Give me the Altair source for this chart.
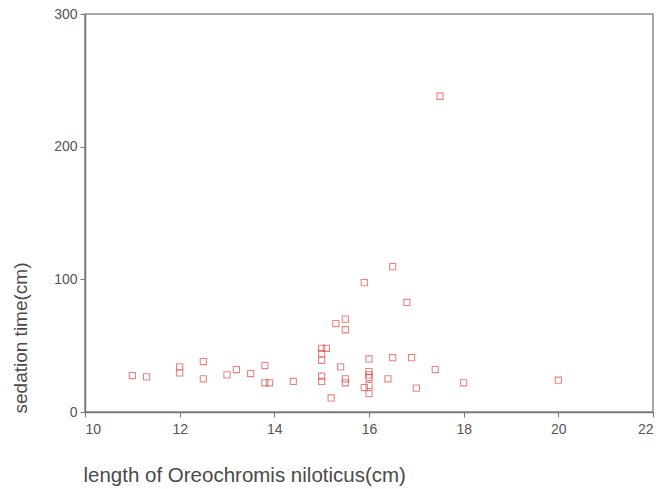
import altair as alt
import pandas as pd

length_cm = [11.0, 11.3, 12.0, 12.0, 12.5, 12.5, 13.0, 13.2, 13.5, 13.8, 13.8, 13.9, 14.4,
             15.0, 15.1, 15.0, 15.0, 15.0, 15.0, 15.2, 15.3, 15.5, 15.5, 15.4, 15.5, 15.5,
             15.9, 15.9, 16.0, 16.0, 16.0, 16.0, 16.0, 16.0, 16.4, 16.5, 16.5,
             16.8, 16.9, 17.0, 17.4, 17.5, 18.0, 20.0]
sedation = [27.5, 26.5, 34, 29.5, 38, 25, 28, 32, 29, 35, 22, 22, 23,
            48, 48, 44, 39, 27, 23, 10.6, 66.7, 70, 62, 34, 25, 22,
            97.5, 18.4, 40, 30.5, 28, 26, 20, 14, 25, 109.6, 41,
            82.6, 41, 18, 32, 238, 22, 24]

df = pd.DataFrame({"length": length_cm, "time": sedation})

chart = alt.Chart(df).mark_point(
    shape="square", filled=False, color="#e4524a", size=38, strokeWidth=1.1
).encode(
    x=alt.X("length:Q", scale=alt.Scale(domain=[10, 22], nice=False, zero=False),
            axis=alt.Axis(values=[10, 12, 14, 16, 18, 20, 22], grid=False,
                          title="length of Oreochromis niloticus(cm)",
                          titleX=-2, titleY=63, titleAlign="left", titleBaseline="middle",
                          titleAnchor="start", titleFontSize=20.5, labelPadding=5)),
    y=alt.Y("time:Q", scale=alt.Scale(domain=[0, 300], nice=False),
            axis=alt.Axis(values=[0, 100, 200, 300], grid=False,
                          title="sedation time(cm)",
                          titleX=-65, titleY=399, titleAlign="left", titleAngle=-90,
                          titleBaseline="middle", titleAnchor="start", titleFontSize=19)),
).properties(
    width=568, height=398,
    autosize=alt.AutoSizeParams(type="none"),
    padding={"left": 85, "top": 14, "right": 10, "bottom": 77},
).configure(
    background="white"
).configure_view(
    stroke="#8a8a8a", strokeWidth=1.5
).configure_axis(
    domainColor="#777777", domainWidth=1.5, tickColor="#777777", tickSize=5,
    labelColor="#555555", labelFontSize=14, labelFont="Liberation Sans",
    titleColor="#4a4a4a", titleFont="Liberation Sans", titleFontWeight="normal",
    labelPadding=3
)

chart.save("out.html", embed_options={"renderer": "svg", "actions": False})
